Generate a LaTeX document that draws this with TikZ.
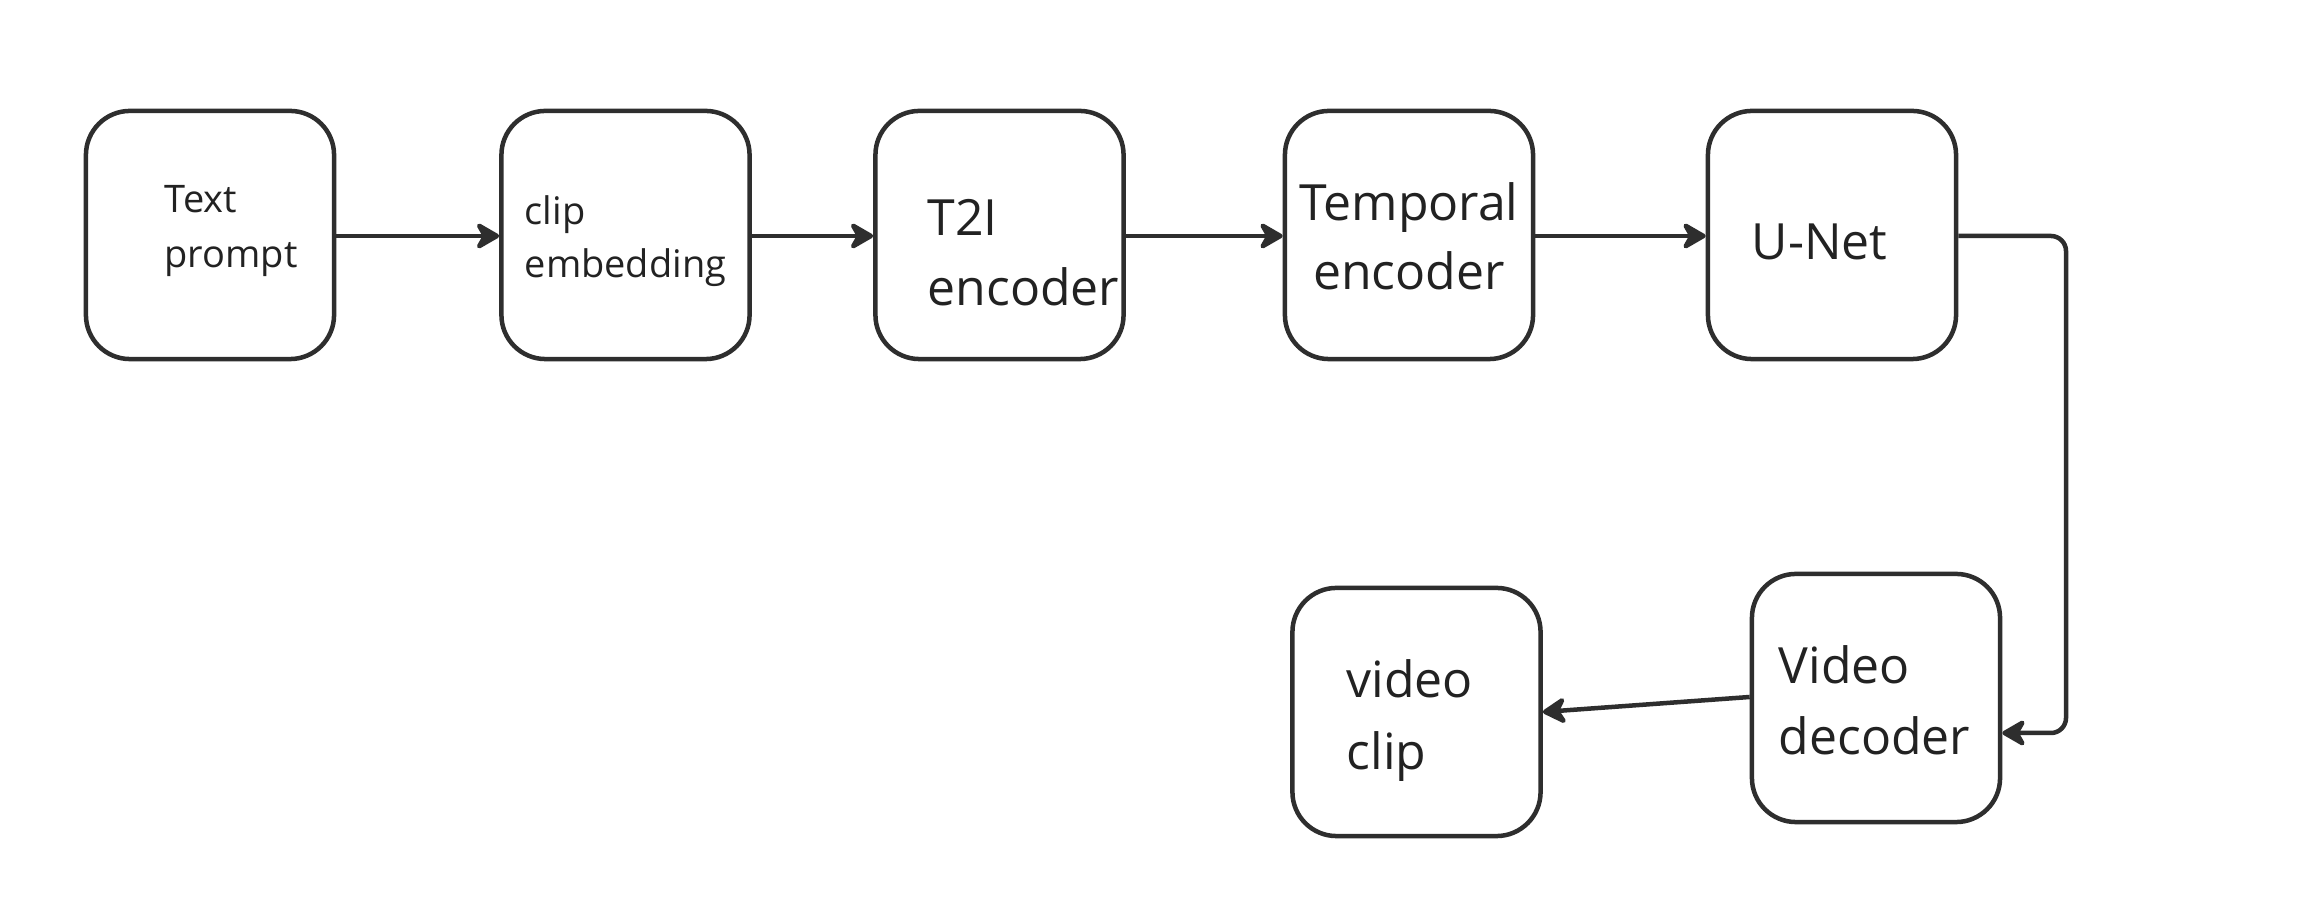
\documentclass[tikz,border=0pt]{standalone}
\usepackage{fontspec}
\setmainfont{Open Sans}
\usetikzlibrary{arrows.meta}
\definecolor{linec}{HTML}{2E2E2E}
\definecolor{textc}{HTML}{222222}
\begin{document}
\begin{tikzpicture}[x=0.01cm,y=-0.01cm,
  box/.style={draw=linec, line width=0.045cm, rounded corners=0.44cm, minimum width=2.48cm, minimum height=2.48cm, inner sep=0pt, fill=white},
  small/.style={text=textc, inner sep=0pt, font=\fontsize{10.8pt}{13pt}\selectfont},
  big/.style={text=textc, inner sep=0pt, font=\fontsize{14.2pt}{17pt}\selectfont},
  conn/.style={draw=linec, line width=0.045cm, -{Stealth[length=0.28cm, width=0.32cm, inset=0.09cm, round]}}]
\useasboundingbox (0,0) rectangle (2302,904);
\fill[white] (0,0) rectangle (2302,904);
% boxes
\node[box] (tp) at (210,235) {};
\node[box] (ce) at (625.5,235) {};
\node[box] (t2i) at (999.5,235) {};
\node[box] (temp) at (1409,235) {};
\node[box] (unet) at (1832,235) {};
\node[box] (vd) at (1876,698) {};
\node[box] (vc) at (1416.5,712) {};
% texts
\node[small, anchor=base west] (tp1) at (164,213) {Text};
\node[small, anchor=base west] (tp2) at (164,268) {prompt};
\node[small, anchor=base west] (ce1) at (524,225) {clip};
\node[small, anchor=base west] (ce2) at (524,278) {embedding};
\node[big, anchor=base west] (t2i1) at (927,236) {T2I};
\node[big, anchor=base west] (t2i2) at (927,306) {encoder};
\node[big, anchor=base] (temp1) at (1409,221) {Temporal};
\node[big, anchor=base] (temp2) at (1409,290) {encoder};
\node[big, anchor=base west] (unet1) at (1751,260) {U-Net};
\node[big, anchor=base west] (vd1) at (1778,684) {Video};
\node[big, anchor=base west] (vd2) at (1778,755) {decoder};
\node[big, anchor=base west] (vc1) at (1346,698) {video};
\node[big, anchor=base west] (vc2) at (1346,770) {clip};
% connectors
\coordinate (bendtop) at (2066,236);
\coordinate (bendbot) at (2066,733);
\draw[conn] (tp.east |- 0,236) -- (ce.west |- 0,236);
\draw[conn] (ce.east |- 0,236) -- (t2i.west |- 0,236);
\draw[conn] (t2i.east |- 0,236) -- (temp.west |- 0,236);
\draw[conn] (temp.east |- 0,236) -- (unet.west |- 0,236);
\draw[conn, rounded corners=0.15cm] (unet.east |- 0,236) -- (bendtop) -- (bendbot) -- (vd.east |- 0,733);
\draw[conn] (vd.west |- 0,697) -- (vc.east |- 0,712);
\end{tikzpicture}
\end{document}
